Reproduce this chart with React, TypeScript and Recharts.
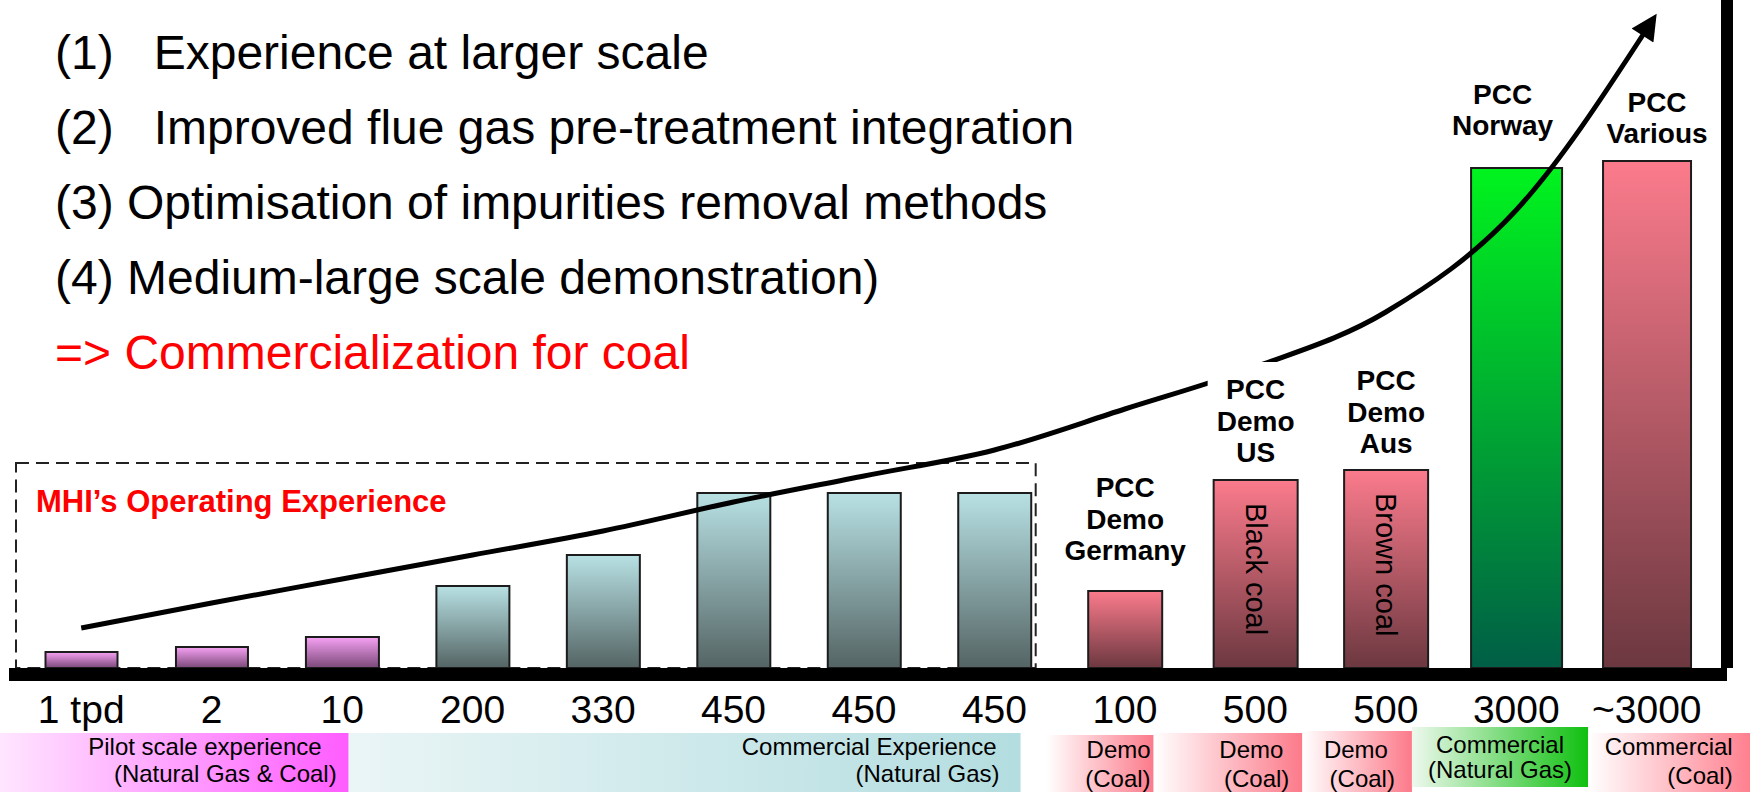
import React from "react";
import { ComposedChart, Bar, Line, XAxis, YAxis, ReferenceArea, LabelList } from "recharts";

// ---- data ----
const categories = [
  "pilot-1", "pilot-2", "pilot-10", "ng-200", "ng-330", "ng-450-a", "ng-450-b", "ng-450-c",
  "demo-germany", "demo-us", "demo-aus", "pcc-norway", "pcc-various",
];
const tickLabels = ["1 tpd", "2", "10", "200", "330", "450", "450", "450", "100", "500", "500", "3000", "~3000"];
// bar heights as drawn on the slide (schematic, not to scale with tpd)
const plantSize = [16, 21, 31, 82, 113, 175, 175, 175, 77, 188, 198, 500, 507];
// the growth arrow, read at each plant
const trend = [40, 65, 89, 113, 137, 166, 192, 218, 259, 301, 356, 458, 639];
const plantKind = ["pilot", "pilot", "pilot", "ng", "ng", "ng", "ng", "ng", "demo", "demo", "demo", "norway", "demo"];
const topLabels: string[][] = [
  [], [], [], [], [], [], [], [],
  ["PCC", "Demo", "Germany"], ["PCC", "Demo", "US"], ["PCC", "Demo", "Aus"], ["PCC", "Norway"], ["PCC", "Various"],
];
const innerLabels = ["", "", "", "", "", "", "", "", "", "Black coal", "Brown coal", "", ""];

const groupTitles = [
  ["Pilot scale experience", "(Natural Gas & Coal)"],
  ["Commercial Experience", "(Natural Gas)"],
  ["Demo", "(Coal)"],
  ["Demo", "(Coal)"],
  ["Demo", "(Coal)"],
  ["Commercial", "(Natural Gas)"],
  ["Commercial", "(Coal)"],
];
const groupFirst = [0, 3, 8, 9, 10, 11, 12];

const notes = [
  "(1)   Experience at larger scale",
  "(2)   Improved flue gas pre-treatment integration",
  "(3) Optimisation of impurities removal methods",
  "(4) Medium-large scale demonstration)",
];
const conclusion = "=> Commercialization for coal";
const boxTitle = "MHI\u2019s Operating Experience";

const data = categories.map((c, i) => ({ category: c, size: plantSize[i], trend: trend[i], cap: 0 }));

// ---- layout / style ----
const W = 1750;
const H = 792;
const FONT = "'Liberation Sans', Arial, sans-serif";
const MARGIN = { top: 0, right: 11, bottom: 0, left: 9 };
const Y_W = 12;
const PAD = { left: 7, right: 15 };
const BAND = (W - MARGIN.left - MARGIN.right - Y_W - PAD.left - PAD.right) / categories.length;

const BAR_WIDTH = [72, 72, 73, 73, 73, 73, 73, 73, 74, 84, 84, 91, 88];
const BAR_FILL: Record<string, [string, string]> = {
  pilot: ["#f7a2f4", "#7a4878"],
  ng: ["#b8e1e4", "#546464"],
  demo: ["#fb7b8c", "#6c3840"],
  norway: ["#00f41e", "#005e46"],
};
const LABEL_GAP: Record<string, number> = {
  "demo-germany": 31, "demo-us": 18, "demo-aus": 17, "pcc-norway": 33, "pcc-various": 18,
};
const LABEL_DX: Record<string, number> = { "pcc-norway": -14, "pcc-various": 10 };
const LABEL_MASK: Record<string, boolean> = { "demo-us": true };

const GROUP_STYLE = [
  { span: [-0.62, 2.55], from: "#ffffff", to: "#ff5cff", anchor: "end", inset: [27, 12], top: 65, bottom: 124, base: [87, 114] },
  { span: [2.55, 7.7], from: "#eaf5f6", to: "#b3dde0", anchor: "end", inset: [24, 21], top: 65, bottom: 124, base: [87, 114] },
  { span: [7.9, 8.72], from: "#ffffff", to: "#fc7a8a", anchor: "end", inset: [3, 3], top: 67, bottom: 124, base: [90, 119] },
  { span: [8.72, 9.86], from: "#ffffff", to: "#fc7a8a", anchor: "end", inset: [19, 13], top: 65, bottom: 124, base: [90, 119] },
  { span: [9.86, 10.7], from: "#ffffff", to: "#fc7a8a", anchor: "end", inset: [24, 17], top: 63, bottom: 124, base: [90, 119] },
  { span: [10.7, 12.05], from: "#eef8ee", to: "#10c010", anchor: "middle", inset: [0, 0], top: 59, bottom: 119, base: [85, 110] },
  { span: [12.05, 13.35], from: "#ffffff", to: "#ff7a8a", anchor: "end", inset: [25, 25], top: 65, bottom: 124, base: [87, 116] },
];

const PlantBar = (props: any) => {
  const { x, y, width, height, index } = props;
  if (!height || height <= 0) return null;
  const w = BAR_WIDTH[index] ?? width;
  const cx = x + width / 2;
  return (
    <rect x={cx - w / 2} y={y} width={w} height={height}
      fill={`url(#bar-${plantKind[index]})`} stroke="#1c1c1c" strokeWidth={2} />
  );
};

const TopLabel = (props: any) => {
  const { x, y, width, index } = props;
  const lines = topLabels[index];
  if (!lines || !lines.length) return null;
  const key = categories[index];
  const cx = x + width / 2 + (LABEL_DX[key] ?? 0);
  const lh = 31.5;
  const last = y - (LABEL_GAP[key] ?? 18);
  const first = last - (lines.length - 1) * lh;
  return (
    <g>
      {LABEL_MASK[key] && (
        <rect x={cx - 48} y={first - 37} width={96} height={last - first + 45} fill="#ffffff" />
      )}
      {lines.map((t, i) => (
        <text key={i} x={cx} y={first + i * lh} textAnchor="middle" fontFamily={FONT}
          fontWeight="bold" fontSize={28} fill="#000">{t}</text>
      ))}
    </g>
  );
};

const InnerLabel = (props: any) => {
  const { x, y, width, index } = props;
  const t = innerLabels[index];
  if (!t) return null;
  const cx = x + width / 2;
  const y0 = y + 23;
  return (
    <text x={cx} y={y0} transform={`rotate(90, ${cx}, ${y0})`} textAnchor="start"
      dominantBaseline="central" fontFamily={FONT} fontSize={29} fill="#000">{t}</text>
  );
};

const AxisTick = (props: any) => {
  const { x, y, payload } = props;
  const i = categories.indexOf(payload.value);
  const g = groupFirst.indexOf(i);
  let band: React.ReactNode = null;
  if (g >= 0) {
    const s = GROUP_STYLE[g];
    const left = x + (s.span[0] - i - 0.5) * BAND;
    const right = x + (s.span[1] - i - 0.5) * BAND;
    const lines = groupTitles[g];
    band = (
      <g>
        <rect x={left} y={y + s.top} width={right - left} height={s.bottom - s.top} fill={`url(#band-${g})`} />
        {lines.map((t, k) => (
          <text key={k}
            x={s.anchor === "middle" ? (left + right) / 2 : right - s.inset[k]}
            y={y + s.base[k]} textAnchor={s.anchor} fontFamily={FONT} fontSize={24} fill="#000">{t}</text>
        ))}
      </g>
    );
  }
  return (
    <g>
      {band}
      <text x={x} y={y + 55} textAnchor="middle" fontFamily={FONT} fontSize={39} fill="#000">
        {tickLabels[i]}
      </text>
    </g>
  );
};

const BoxTitle = (props: any) => {
  const { viewBox } = props;
  return (
    <text x={viewBox.x + 20} y={viewBox.y + 49} fontFamily={FONT} fontWeight="bold"
      fontSize={31} fill="#ff0000">{boxTitle}</text>
  );
};

const DashedBox = (props: any) => {
  const { x, y, width, height } = props;
  return (
    <rect x={x} y={y} width={width - 24} height={height} fill="none"
      stroke="#222" strokeWidth={2} strokeDasharray="13 7" />
  );
};

export default function App() {
  return (
    <div style={{ position: "absolute", left: 0, top: 0, width: W, height: H, background: "#fff", fontFamily: FONT }}>
      <ComposedChart width={W} height={H} data={data} margin={MARGIN}>
        <defs>
          {Object.entries(BAR_FILL).map(([k, [a, b]]) => (
            <linearGradient key={k} id={`bar-${k}`} x1="0" y1="0" x2="0" y2="1">
              <stop offset="0%" stopColor={a} />
              <stop offset="100%" stopColor={b} />
            </linearGradient>
          ))}
          {GROUP_STYLE.map((s, g) => (
            <linearGradient key={g} id={`band-${g}`} x1="0" y1="0" x2="1" y2="0">
              <stop offset="0%" stopColor={s.from} />
              <stop offset="100%" stopColor={s.to} />
            </linearGradient>
          ))}
          <marker id="trend-arrow" viewBox="0 0 10 10" refX="3" refY="5" markerWidth="28" markerHeight="26"
            markerUnits="userSpaceOnUse" orient="auto">
            <path d="M0,0 L10,5 L0,10 z" fill="#000" />
          </marker>
        </defs>
        <XAxis dataKey="category" height={124} interval={0} padding={PAD} tickLine={false}
          tickSize={0} tickMargin={0} tick={<AxisTick />}
          axisLine={{ stroke: "#000", strokeWidth: 13, transform: "translate(0,6.5)" }} />
        <YAxis orientation="right" width={Y_W} domain={[0, 668]} tick={false} tickLine={false}
          axisLine={{ stroke: "#000", strokeWidth: 12 }} />
        <ReferenceArea x1="pilot-1" x2="ng-450-c" y1={0} y2={205} shape={<DashedBox />} label={<BoxTitle />} />
        <Bar dataKey="size" stackId="plant" barSize={73} shape={<PlantBar />} isAnimationActive={false}>
          <LabelList dataKey="category" content={<InnerLabel />} />
        </Bar>
        <Line dataKey="trend" type="monotone" stroke="#000" strokeWidth={5} dot={false} activeDot={false}
          isAnimationActive={false} markerEnd="url(#trend-arrow)" />
        <Bar dataKey="cap" stackId="plant" barSize={73} shape={() => null} isAnimationActive={false}>
          <LabelList dataKey="category" content={<TopLabel />} />
        </Bar>
      </ComposedChart>
      <div style={{ position: "absolute", left: 55, top: 15, fontSize: 48, lineHeight: "75px", whiteSpace: "pre", color: "#000", pointerEvents: "none" }}>
        {notes.map((n, i) => <div key={i}>{n}</div>)}
        <div style={{ color: "#ff0000" }}>{conclusion}</div>
      </div>
    </div>
  );
}
